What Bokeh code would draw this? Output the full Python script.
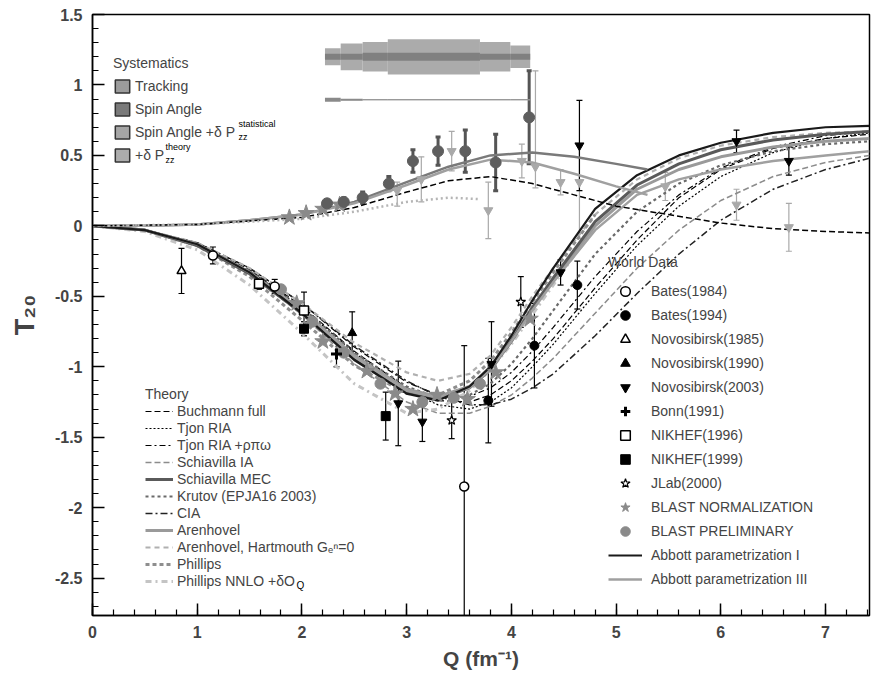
from bokeh.plotting import figure
from bokeh.models import (Range1d, FixedTicker, Legend, LegendItem, Label,
                          Whisker, TeeHead, ColumnDataSource, CustomJSTickFormatter)
from bokeh.embed import file_html
from bokeh.resources import INLINE

FONT = "Liberation Sans"

# ---------------- data ----------------
x_ticks = [0, 1, 2, 3, 4, 5, 6, 7]
y_ticks = [-2.5, -2, -1.5, -1, -0.5, 0, 0.5, 1, 1.5]

# theory curves, T20 branch
q_th = [0, 0.5, 1.0, 1.5, 2.0, 2.5, 3.0, 3.3, 3.6, 3.8, 4.0, 4.2, 4.4, 4.8, 5.2, 5.6, 6.0, 6.5, 7.0, 7.42]
buchmann = [0, -0.03, -0.12, -0.31, -0.57, -0.89, -1.15, -1.24, -1.25, -1.2, -1.1, -0.96, -0.8, -0.44, -0.1, 0.2, 0.4, 0.55, 0.62, 0.65]
tjon_ria = [0, -0.03, -0.13, -0.32, -0.58, -0.9, -1.17, -1.27, -1.3, -1.25, -1.15, -1.0, -0.84, -0.48, -0.14, 0.14, 0.35, 0.52, 0.62, 0.66]
tjon_rpw = [0, -0.03, -0.12, -0.3, -0.55, -0.86, -1.11, -1.2, -1.21, -1.15, -1.04, -0.89, -0.72, -0.36, -0.04, 0.22, 0.41, 0.56, 0.64, 0.67]
schiav_ia = [0, -0.03, -0.13, -0.34, -0.63, -0.98, -1.25, -1.33, -1.33, -1.28, -1.2, -1.08, -0.94, -0.62, -0.3, -0.03, 0.18, 0.35, 0.45, 0.5]
schiav_mec = [0, -0.03, -0.14, -0.34, -0.62, -0.95, -1.18, -1.23, -1.15, -1.02, -0.82, -0.58, -0.37, 0.03, 0.29, 0.44, 0.54, 0.61, 0.65, 0.67]
krutov = [0, -0.03, -0.13, -0.32, -0.58, -0.9, -1.14, -1.22, -1.2, -1.12, -0.98, -0.8, -0.6, -0.2, 0.1, 0.3, 0.43, 0.53, 0.58, 0.6]
cia = [0, -0.03, -0.12, -0.3, -0.55, -0.85, -1.1, -1.21, -1.27, -1.27, -1.23, -1.15, -1.05, -0.78, -0.48, -0.2, 0.04, 0.26, 0.4, 0.48]
arenhovel = [0, -0.03, -0.13, -0.33, -0.6, -0.92, -1.16, -1.21, -1.14, -1.0, -0.8, -0.58, -0.38, 0.0, 0.26, 0.4, 0.49, 0.56, 0.6, 0.62]
aren_gen0 = [0, -0.03, -0.12, -0.3, -0.55, -0.83, -1.04, -1.1, -1.05, -0.92, -0.72, -0.5, -0.3, 0.08, 0.33, 0.48, 0.57, 0.63, 0.66, 0.67]
abbott_1 = [0, -0.03, -0.13, -0.33, -0.62, -0.95, -1.19, -1.24, -1.14, -1.0, -0.78, -0.53, -0.3, 0.12, 0.36, 0.5, 0.59, 0.66, 0.7, 0.71]
abbott_3 = [0, -0.03, -0.13, -0.33, -0.6, -0.93, -1.17, -1.22, -1.15, -1.02, -0.82, -0.6, -0.4, -0.03, 0.22, 0.33, 0.4, 0.46, 0.5, 0.53]

q_ph = [0, 0.5, 1.0, 1.5, 2.0, 2.5, 3.0, 3.3, 3.6, 3.8, 4.0, 4.2, 4.4, 4.8]
phillips = [0, -0.03, -0.14, -0.36, -0.67, -0.99, -1.19, -1.2, -1.1, -0.96, -0.76, -0.54, -0.33, 0.08]
phillips_nnlo = [0, -0.04, -0.17, -0.42, -0.76, -1.12, -1.33, -1.3, -1.17, -1.02, -0.84, -0.63, -0.42, 0.0]

# theory curves, upper branch
q_up = [0, 0.5, 1.0, 1.5, 2.0, 2.5, 3.0, 3.4, 3.8, 4.2, 4.6, 5.0, 5.3]
up_solid_a = [0, 0.0, 0.01, 0.04, 0.08, 0.17, 0.31, 0.42, 0.5, 0.52, 0.49, 0.44, 0.4]
up_solid_b = [0, 0.0, 0.01, 0.04, 0.08, 0.16, 0.29, 0.4, 0.47, 0.45, 0.37, 0.28, 0.22]
q_up2 = [0, 1.0, 2.0, 2.5, 3.0, 3.4, 3.8, 4.2, 4.6, 5.0, 5.5, 6.0, 6.5, 7.0, 7.42]
up_dash = [0, 0.01, 0.06, 0.13, 0.24, 0.32, 0.35, 0.3, 0.22, 0.14, 0.08, 0.02, -0.02, -0.04, -0.05]
q_up3 = [0, 1.0, 2.0, 2.5, 3.0, 3.4, 3.7]
up_dot = [0, 0.01, 0.05, 0.1, 0.17, 0.2, 0.19]

# world data
bates84_q = [1.15, 1.74, 3.55]
bates84_t = [-0.21, -0.43, -1.85]
bates84_e = [0.06, 0.05, 1.0]
bates94_q = [3.78, 4.22, 4.63]
bates94_t = [-1.24, -0.85, -0.42]
bates94_e = [0.3, 0.3, 0.17]
nov85_q = [0.85]
nov85_t = [-0.32]
nov85_e = [0.16]
nov90_q = [2.48]
nov90_t = [-0.76]
nov90_e = [0.15]
nov03_q = [2.92, 3.15, 3.81, 4.47, 4.65, 6.15, 6.65]
nov03_t = [-1.26, -1.39, -0.98, -0.33, 0.57, 0.6, 0.46]
nov03_e = [0.3, 0.14, 0.3, 0.09, 0.32, 0.08, 0.1]
bonn_q = [2.33]
bonn_t = [-0.91]
bonn_e = [0.09]
nik96_q = [1.59, 2.02]
nik96_t = [-0.41, -0.6]
nik96_e = [0.04, 0.13]
nik99_q = [2.02, 2.8]
nik99_t = [-0.73, -1.35]
nik99_e = [0.05, 0.17]
jlab_q = [3.43, 4.09]
jlab_t = [-1.38, -0.54]
jlab_e = [0.13, 0.18]

# BLAST
blast_norm_q = [1.88, 2.04, 2.2, 2.36, 1.95, 2.2, 2.62, 2.89, 3.06, 3.29, 3.58, 3.85, 4.18]
blast_norm_t = [0.06, 0.09, 0.12, 0.15, -0.55, -0.82, -1.03, -1.19, -1.3, -1.2, -1.23, -1.04, -0.66]
blast_low_q = [1.8, 2.1, 2.4, 2.75, 3.15, 3.45, 3.7]
blast_low_t = [-0.45, -0.68, -0.9, -1.12, -1.25, -1.22, -1.12]
blast_up_q = [2.24, 2.4, 2.58, 2.83, 3.06, 3.3, 3.56, 3.85, 4.17]
blast_up_t = [0.16, 0.17, 0.2, 0.3, 0.46, 0.53, 0.53, 0.45, 0.77]
blast_up_e = [0.02, 0.03, 0.04, 0.05, 0.08, 0.1, 0.15, 0.2, 0.33]
light_q = [2.91, 3.14, 3.43, 3.78, 4.1, 4.23, 4.47, 4.65, 5.47, 6.15, 6.65]
light_t = [0.25, 0.33, 0.53, 0.11, 0.46, 0.42, 0.31, 0.31, 0.28, 0.15, -0.01]
light_eu = [0.06, 0.16, 0.14, 0.2, 0.12, 0.68, 0.09, 0.26, 0.1, 0.11, 0.17]
light_ed = [0.11, 0.16, 0.14, 0.2, 0.12, 0.15, 0.09, 0.4, 0.1, 0.11, 0.17]

# systematics bands (per Q bin)
sys_lo = [2.22, 2.37, 2.58, 2.82, 3.7, 3.99]
sys_hi = [2.37, 2.58, 2.82, 3.7, 3.99, 4.18]
sys_track = [0.06, 0.095, 0.105, 0.125, 0.105, 0.08]
sys_spin = [0.022, 0.022, 0.028, 0.028, 0.022, 0.022]
sys_stat = [0.014, 0.007, 0.003, 0.003, 0.003, 0.003]
sys_theory = [0.004, 0.004, 0.004, 0.004, 0.004, 0.004]
SYS_Y1 = 1.2    # display offset of first band group
SYS_Y2 = 0.895  # display offset of second band group

# ---------------- figure ----------------
p = figure(width=871, height=677, x_range=Range1d(0, 7.42), y_range=Range1d(-2.765, 1.5),
           output_backend="svg", toolbar_location=None,
           min_border_left=92, min_border_right=2, min_border_top=14, min_border_bottom=62)
p.xgrid.visible = False
p.ygrid.visible = False
p.outline_line_color = "black"
p.outline_line_width = 1.5

xa = p.xaxis[0]
ya = p.yaxis[0]
xa.ticker = FixedTicker(ticks=x_ticks, minor_ticks=[i * 0.2 for i in range(38)])
ya.ticker = FixedTicker(ticks=y_ticks, minor_ticks=[-2.7 + i * 0.1 for i in range(43)])
fmt = CustomJSTickFormatter(code="return String(Math.round(tick*10)/10);")
xa.formatter = fmt
ya.formatter = fmt
for ax in (xa, ya):
    ax.major_tick_in = 12
    ax.major_tick_out = 0
    ax.minor_tick_in = 6
    ax.minor_tick_out = 0
    ax.axis_line_width = 1.5
    ax.major_tick_line_width = 1.5
    ax.minor_tick_line_width = 1.2
    ax.major_label_text_font = FONT
    ax.major_label_text_font_style = "bold"
    ax.major_label_text_font_size = "16px"
    ax.major_label_standoff = 10
    ax.axis_label_text_font = FONT
    ax.axis_label_text_font_style = "bold"
xa.axis_label = "Q (fm⁻¹)"
xa.axis_label_text_font_size = "21px"
xa.axis_label_standoff = 6
ya.axis_label = "T₂₀"
ya.axis_label_text_font_size = "27px"
ya.axis_label_standoff = 12

# systematics bands
p.quad(left=sys_lo, right=sys_hi, bottom=[SYS_Y1 - v for v in sys_track],
       top=[SYS_Y1 + v for v in sys_track], fill_color="#ababab", line_color=None)
p.quad(left=sys_lo, right=sys_hi, bottom=[SYS_Y1 - v for v in sys_spin],
       top=[SYS_Y1 + v for v in sys_spin], fill_color="#808080", line_color=None)
p.quad(left=sys_lo, right=sys_hi, bottom=[SYS_Y2 - v for v in sys_theory],
       top=[SYS_Y2 + v for v in sys_theory], fill_color="#b5b5b5", line_color=None)
p.quad(left=sys_lo, right=sys_hi, bottom=[SYS_Y2 - v for v in sys_stat],
       top=[SYS_Y2 + v for v in sys_stat], fill_color="#8a8a8a", line_color=None)

# theory lines
r_buch = p.line(q_th, buchmann, line_color="black", line_dash="6 3", line_width=1.2)
r_tjon = p.line(q_th, tjon_ria, line_color="black", line_dash="2 2", line_width=1.2)
r_tjon2 = p.line(q_th, tjon_rpw, line_color="black", line_dash="6 3 2 3", line_width=1.2)
r_sia = p.line(q_th, schiav_ia, line_color="#8c8c8c", line_dash="6 3", line_width=1.5)
r_cia = p.line(q_th, cia, line_color="#222222", line_dash="7 3 2 3", line_width=1.5)
r_krut = p.line(q_th, krutov, line_color="#6a6a6a", line_dash="3 3", line_width=2.2)
r_agen = p.line(q_th, aren_gen0, line_color="#b0b0b0", line_dash="5 4", line_width=2.2)
r_phil = p.line(q_ph, phillips, line_color="#8e8e8e", line_dash="4 3", line_width=3)
r_pnn = p.line(q_ph, phillips_nnlo, line_color="#c4c4c4", line_dash="6 4 2 4", line_width=3)
r_aren = p.line(q_th, arenhovel, line_color="#9a9a9a", line_width=3)
r_smec = p.line(q_th, schiav_mec, line_color="#5a5a5a", line_width=3)
r_ab3 = p.line(q_th, abbott_3, line_color="#a0a0a0", line_width=2.5)
r_ab1 = p.line(q_th, abbott_1, line_color="#1a1a1a", line_width=2.2)

p.line(q_up, up_solid_a, line_color="#7a7a7a", line_width=2.5)
p.line(q_up, up_solid_b, line_color="#a0a0a0", line_width=2.5)
p.line(q_up2, up_dash, line_color="black", line_dash="6 3", line_width=1.5)
p.line(q_up3, up_dot, line_color="#b5b5b5", line_dash="2 3", line_width=2.5)


def errbars(q, t, eu, ed, color, width=1.2, head=6):
    src = ColumnDataSource(dict(q=q, hi=[a + b for a, b in zip(t, eu)], lo=[a - b for a, b in zip(t, ed)]))
    w = Whisker(source=src, base="q", upper="hi", lower="lo", dimension="height",
                line_color=color, line_width=width, level="underlay",
                upper_head=TeeHead(size=head, line_color=color, line_width=width),
                lower_head=TeeHead(size=head, line_color=color, line_width=width))
    p.add_layout(w)


# light upper points (no legend)
errbars(light_q, light_t, light_eu, light_ed, "#a9a9a9")
p.scatter(light_q, light_t, marker="inverted_triangle", size=9, fill_color="#a9a9a9", line_color="#a9a9a9")

# BLAST
errbars(blast_up_q, blast_up_t, blast_up_e, blast_up_e, "#555555", width=3, head=5)
r_bn = p.scatter(blast_norm_q, blast_norm_t, marker="star", size=17, fill_color="#8a8a8a", line_color="#8a8a8a")
r_bp = p.scatter(blast_low_q, blast_low_t, marker="circle", size=11, fill_color="#8a8a8a", line_color="#8a8a8a")
p.scatter(blast_up_q, blast_up_t, marker="circle", size=11, fill_color="#5e5e5e", line_color="#5e5e5e")

# world data
errbars(bates84_q, bates84_t, bates84_e, bates84_e, "black")
errbars(bates94_q, bates94_t, bates94_e, bates94_e, "black")
errbars(nov85_q, nov85_t, nov85_e, nov85_e, "black")
errbars(nov90_q, nov90_t, nov90_e, nov90_e, "black")
errbars(nov03_q, nov03_t, nov03_e, nov03_e, "black")
errbars(bonn_q, bonn_t, bonn_e, bonn_e, "black")
errbars(nik96_q, nik96_t, nik96_e, nik96_e, "black")
errbars(nik99_q, nik99_t, nik99_e, nik99_e, "black")
errbars(jlab_q, jlab_t, jlab_e, jlab_e, "black")

r_b84 = p.scatter(bates84_q, bates84_t, marker="circle", size=9, fill_color="white", line_color="black", line_width=1.5)
r_b94 = p.scatter(bates94_q, bates94_t, marker="circle", size=9, fill_color="black", line_color="black")
r_n85 = p.scatter(nov85_q, nov85_t, marker="triangle", size=9, fill_color="white", line_color="black", line_width=1.5)
r_n90 = p.scatter(nov90_q, nov90_t, marker="triangle", size=9, fill_color="black", line_color="black")
r_n03 = p.scatter(nov03_q, nov03_t, marker="inverted_triangle", size=9, fill_color="black", line_color="black")
r_bonn = p.scatter(bonn_q, bonn_t, marker="cross", size=11, line_color="black", line_width=3)
r_k96 = p.scatter(nik96_q, nik96_t, marker="square", size=9, fill_color="white", line_color="black", line_width=1.5)
r_k99 = p.scatter(nik99_q, nik99_t, marker="square", size=9, fill_color="black", line_color="black")
r_jl = p.scatter(jlab_q, jlab_t, marker="star", size=10, fill_color="white", line_color="black", line_width=1.2)

# legend swatches for the systematics (hidden renderers, first bin of each band)
def swatch(color, half):
    return p.quad(left=sys_lo[:1], right=sys_hi[:1], bottom=[SYS_Y1 - half[0]], top=[SYS_Y1 + half[0]],
                  fill_color=color, line_color="#333333", line_width=1.5, visible=False)


s1 = swatch("#9c9c9c", sys_track)
s2 = swatch("#7a7a7a", sys_spin)
s3 = swatch("#a6a6a6", sys_stat)
s4 = swatch("#acacac", sys_theory)


def style_legend(lg, size="14px"):
    lg.background_fill_alpha = 0
    lg.border_line_alpha = 0
    lg.margin = 0
    lg.padding = 0
    lg.label_text_font = FONT
    lg.label_text_font_size = size
    lg.title_text_font = FONT
    lg.title_text_font_size = size
    lg.title_text_font_style = "normal"
    lg.click_policy = "none"


leg_sys = Legend(items=[LegendItem(label="Tracking", renderers=[s1]),
                        LegendItem(label="Spin Angle", renderers=[s2]),
                        LegendItem(label="Spin Angle +δ P", renderers=[s3]),
                        LegendItem(label="+δ P", renderers=[s4])],
                 title="Systematics", location=(21, 452))
style_legend(leg_sys)
leg_sys.glyph_width = 18
leg_sys.glyph_height = 16
leg_sys.label_height = 16
leg_sys.spacing = 7
leg_sys.label_standoff = 4
leg_sys.title_standoff = 7
p.add_layout(leg_sys)

leg_th = Legend(items=[LegendItem(label="Buchmann full", renderers=[r_buch]),
                       LegendItem(label="Tjon RIA", renderers=[r_tjon]),
                       LegendItem(label="Tjon RIA +ρπω", renderers=[r_tjon2]),
                       LegendItem(label="Schiavilla IA", renderers=[r_sia]),
                       LegendItem(label="Schiavilla MEC", renderers=[r_smec]),
                       LegendItem(label="Krutov (EPJA16 2003)", renderers=[r_krut]),
                       LegendItem(label="CIA", renderers=[r_cia]),
                       LegendItem(label="Arenhovel", renderers=[r_aren]),
                       LegendItem(label="Arenhovel, Hartmouth Gₑⁿ=0", renderers=[r_agen]),
                       LegendItem(label="Phillips", renderers=[r_phil]),
                       LegendItem(label="Phillips NNLO +δO", renderers=[r_pnn])],
                title="Theory", location=(53, 26))
style_legend(leg_th)
leg_th.glyph_width = 28
leg_th.glyph_height = 16
leg_th.label_height = 16
leg_th.spacing = 1
leg_th.label_standoff = 4
leg_th.title_standoff = 1
p.add_layout(leg_th)

leg_wd = Legend(items=[LegendItem(label="Bates(1984)", renderers=[r_b84]),
                       LegendItem(label="Bates(1994)", renderers=[r_b94]),
                       LegendItem(label="Novosibirsk(1985)", renderers=[r_n85]),
                       LegendItem(label="Novosibirsk(1990)", renderers=[r_n90]),
                       LegendItem(label="Novosibirsk(2003)", renderers=[r_n03]),
                       LegendItem(label="Bonn(1991)", renderers=[r_bonn]),
                       LegendItem(label="NIKHEF(1996)", renderers=[r_k96]),
                       LegendItem(label="NIKHEF(1999)", renderers=[r_k99]),
                       LegendItem(label="JLab(2000)", renderers=[r_jl]),
                       LegendItem(label="BLAST NORMALIZATION", renderers=[r_bn]),
                       LegendItem(label="BLAST PRELIMINARY", renderers=[r_bp]),
                       LegendItem(label="Abbott parametrization I", renderers=[r_ab1]),
                       LegendItem(label="Abbott parametrization III", renderers=[r_ab3])],
                title="World Data", location=(516, 24))
style_legend(leg_wd)
leg_wd.glyph_width = 34
leg_wd.glyph_height = 24
leg_wd.label_height = 24
leg_wd.spacing = 0
leg_wd.label_standoff = 9
leg_wd.title_standoff = 9
p.add_layout(leg_wd)

# super/subscripts in legend texts (screen px relative to frame bottom-left)
def small(txt, x, y, size="9px"):
    p.add_layout(Label(x=x, y=y, x_units="screen", y_units="screen", text=txt,
                       text_font=FONT, text_font_size=size, text_color="black"))


small("statistical", 146, 487)
small("zz", 146, 474)
small("theory", 73, 464)
small("zz", 73, 451)
small("Q", 204, 25, "10px")

open("out.html", "w").write(file_html(p, INLINE))
